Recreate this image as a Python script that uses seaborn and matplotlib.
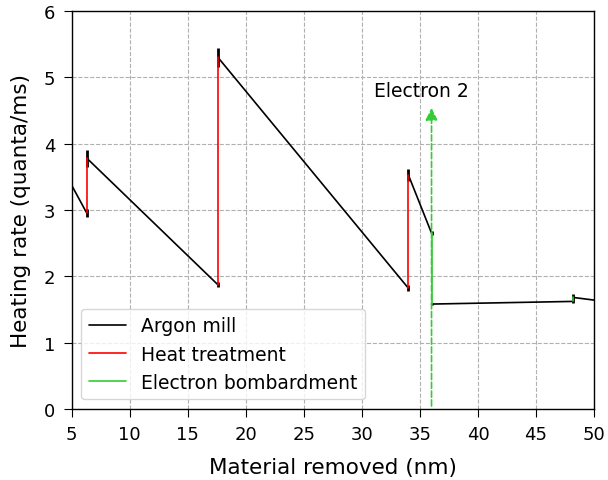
import numpy as np
import pandas as pd
import matplotlib
matplotlib.use("Agg")
import matplotlib.pyplot as plt
import seaborn as sns

# segments: process, x start/end, y start/end
seg_process = ["Argon mill", "Heat treatment", "Argon mill", "Heat treatment",
               "Argon mill", "Heat treatment", "Argon mill", "Electron bombardment",
               "Argon mill", "Electron bombardment", "Argon mill"]
seg_x0 = [5.0, 6.3, 6.3, 17.6, 17.6, 34.0, 34.0, 36.0, 36.0, 48.2, 48.2]
seg_x1 = [6.3, 6.3, 17.6, 17.6, 34.0, 34.0, 36.0, 36.0, 48.2, 48.2, 50.0]
seg_y0 = [3.37, 2.95, 3.78, 1.87, 5.30, 1.82, 3.53, 2.65, 1.58, 1.62, 1.68]
seg_y1 = [2.95, 3.78, 1.87, 5.30, 1.82, 3.53, 2.65, 1.58, 1.62, 1.68, 1.64]

# measured points with uncertainty
err_x = [6.3, 6.3, 17.6, 17.6, 34.0, 34.0, 36.0, 36.0, 48.2]
err_y = [2.95, 3.78, 1.87, 5.30, 1.82, 3.53, 2.65, 1.58, 1.66]
err_e = [0.06, 0.13, 0.04, 0.14, 0.05, 0.09, 0.03, 0.02, 0.07]

colors = {"Argon mill": "black", "Heat treatment": "red",
          "Electron bombardment": "#33cc33"}

sns.set_style("ticks", {"axes.grid": True, "grid.linestyle": "--",
                        "grid.color": "#b0b0b0", "axes.edgecolor": "black",
                        "text.color": "black", "axes.labelcolor": "black",
                        "xtick.color": "black", "ytick.color": "black"})
plt.rcParams["font.family"] = ["DejaVu Sans"]

rows = []
for i, p in enumerate(seg_process):
    rows.append({"seg": i, "process": p, "x": seg_x0[i], "y": seg_y0[i]})
    rows.append({"seg": i, "process": p, "x": seg_x1[i], "y": seg_y1[i]})
df = pd.DataFrame(rows)

fig, ax = plt.subplots(figsize=(6.08, 4.81), dpi=100)
fig.subplots_adjust(left=0.118, right=0.977, top=0.975, bottom=0.148)

ax.errorbar(err_x, err_y, yerr=err_e, fmt="none", ecolor="black",
            elinewidth=2, capsize=0, zorder=2)

sns.lineplot(data=df, x="x", y="y", hue="process", units="seg", estimator=None,
             hue_order=["Argon mill", "Heat treatment", "Electron bombardment"],
             palette=colors, sort=False, linewidth=1.2, ax=ax, zorder=3)

ax.annotate("", xy=(36.0, 4.58), xytext=(36.0, 0.0),
            arrowprops=dict(arrowstyle="-|>", color="#33cc33", ls="--",
                            lw=1.2, mutation_scale=18), zorder=4)
ax.text(35.1, 4.8, "Electron 2", ha="center", va="center", fontsize=13.5)

ax.set_xlim(5, 50)
ax.set_ylim(0, 6)
ax.set_xticks(np.arange(5, 51, 5))
ax.set_yticks(np.arange(0, 7, 1))
ax.tick_params(labelsize=13, direction="out", length=5.5, pad=6.5, color="black")
ax.set_xlabel("Material removed (nm)", fontsize=15.5, labelpad=9.5)
ax.set_ylabel("Heating rate (quanta/ms)", fontsize=15.5, labelpad=9)
for s in ax.spines.values():
    s.set_visible(True)
    s.set_linewidth(1)

ax.legend(title=None, loc="lower left", fontsize=13.5, frameon=True,
          edgecolor="#cccccc", fancybox=True)

plt.savefig("out.png", dpi=100)
